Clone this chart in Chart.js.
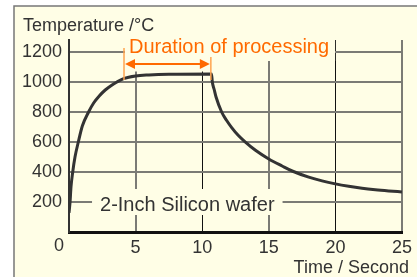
<!DOCTYPE html>
<html>
<head>
<meta charset="utf-8">
<script src="https://cdn.jsdelivr.net/npm/chart.js@4"></script>
<style>
  html, body { margin: 0; padding: 0; background: #fff; }
  #wrap { width: 417px; height: 277px; }
</style>
</head>
<body>
<div id="wrap"><canvas id="myChart"></canvas></div>
<script>
'use strict';

// time (s) and wafer temperature (deg C)
var timeSec = [0, 0.08, 0.15, 0.28, 0.45, 0.7, 1.0, 1.47, 1.85, 2.27, 2.7, 3.15, 3.6, 4.1, 5, 6, 7.5, 10.7,
               10.76, 10.9, 11.04, 11.46, 11.8, 12.2, 12.7, 13.2, 14, 15, 16, 16.8, 18, 19, 20, 21, 22, 23, 24, 25];
var tempC = [127, 200, 300, 400, 500, 600, 707, 800, 860, 907, 945, 975, 1000, 1022, 1040, 1047, 1052, 1054,
             1000, 950, 900, 800, 748, 698, 645, 603, 545, 487, 440, 405, 366, 341, 321, 305, 292, 282, 274, 267];
var xTicks = [0, 5, 10, 15, 20, 25];
var yTicks = [0, 200, 400, 600, 800, 1000, 1200];
var durationStart = 4.13;
var durationEnd = 10.65;

var FONT = '"Liberation Sans", Arial, sans-serif';
var INK = '#333';
var ORANGE = '#ff6a00';
var CREAM = '#fffee6';

var points = timeSec.map(function (t, i) { return { x: t, y: tempC[i] }; });

var decor = {
    id: 'decor',
    beforeDraw: function (chart) {
        var c = chart.ctx;
        c.save();
        c.fillStyle = '#fff';
        c.fillRect(0, 0, chart.width, chart.height);
        c.fillStyle = CREAM;
        c.fillRect(14, 6, chart.width - 14, chart.height - 6);
        c.strokeStyle = '#777';
        c.lineWidth = 1.5;
        c.beginPath();
        c.moveTo(14, chart.height);
        c.lineTo(14, 6);
        c.lineTo(chart.width, 6);
        c.stroke();
        c.restore();
    },
    beforeDatasetsDraw: function (chart) {
        // blank the grid behind the two labels
        var x = chart.scales.x, y = chart.scales.y, c = chart.ctx;
        var top = chart.chartArea.top;
        var xl = x.getPixelForValue(durationStart), xr = x.getPixelForValue(durationEnd);
        c.save();
        c.font = '20px ' + FONT;
        var w1 = c.measureText('Duration of processing').width;
        c.fillStyle = CREAM;
        c.fillRect(xl + 1, top - 2, w1 + 10, y.getPixelForValue(1140) - top + 2);
        c.fillRect(xl + 1, top - 2, xr - xl - 1, y.getPixelForValue(1070) - top + 2);
        var tx = x.getPixelForValue(2.33);
        var w2 = c.measureText('2-Inch Silicon wafer').width;
        var ty = y.getPixelForValue(200);
        c.fillRect(tx - 8, ty - 13, w2 + 16, 26);
        c.restore();
    },
    afterDatasetsDraw: function (chart) {
        var x = chart.scales.x, y = chart.scales.y, c = chart.ctx;
        var xl = x.getPixelForValue(durationStart), xr = x.getPixelForValue(durationEnd);
        c.save();
        // orange markers
        c.strokeStyle = '#ffa550';
        c.lineWidth = 1.5;
        c.beginPath();
        c.moveTo(xl, y.getPixelForValue(1227));
        c.lineTo(xl, y.getPixelForValue(1013));
        c.moveTo(xr, y.getPixelForValue(1167));
        c.lineTo(xr, y.getPixelForValue(1013));
        c.stroke();
        var ay = y.getPixelForValue(1120);
        c.strokeStyle = ORANGE;
        c.fillStyle = ORANGE;
        c.lineWidth = 2;
        c.beginPath();
        c.moveTo(xl + 6, ay);
        c.lineTo(xr - 6, ay);
        c.stroke();
        c.beginPath();
        c.moveTo(xl + 1, ay); c.lineTo(xl + 11, ay - 5); c.lineTo(xl + 11, ay + 5);
        c.closePath();
        c.moveTo(xr - 1, ay); c.lineTo(xr - 11, ay - 5); c.lineTo(xr - 11, ay + 5);
        c.closePath();
        c.fill();

        c.font = '20px ' + FONT;
        c.textBaseline = 'alphabetic';
        c.fillText('Duration of processing', xl + 5, y.getPixelForValue(1193));
        c.fillStyle = INK;
        c.fillText('2-Inch Silicon wafer', x.getPixelForValue(2.33), y.getPixelForValue(200) + 9);
        c.restore();
    },
    afterDraw: function (chart) {
        var x = chart.scales.x, c = chart.ctx;
        c.save();
        c.fillStyle = INK;
        c.font = '18px ' + FONT;
        c.textBaseline = 'alphabetic';
        c.textAlign = 'left';
        c.fillText('Temperature /°C', 23, 31);
        c.textAlign = 'right';
        c.fillText('Time / Second', 409, 273);
        // the "0" sits left of the axis
        c.textAlign = 'center';
        c.fillText(String(xTicks[0]), x.getPixelForValue(xTicks[0]) - 10, 251);
        c.restore();
    }
};

var ctx = document.getElementById('myChart').getContext('2d');
var chart = new Chart(ctx, {
    type: 'line',
    data: {
        datasets: [{
            data: points,
            borderColor: '#333',
            borderWidth: 3,
            pointRadius: 0,
            fill: false,
            cubicInterpolationMode: 'monotone'
        }]
    },
    options: {
        responsive: true,
        maintainAspectRatio: false,
        animation: false,
        layout: { padding: { top: 40, right: 15, left: 0, bottom: 0 } },
        plugins: { legend: { display: false }, tooltip: { enabled: false } },
        scales: {
            x: {
                type: 'linear',
                min: xTicks[0],
                max: xTicks[xTicks.length - 1],
                afterFit: function (s) { s.height = 45; },
                afterBuildTicks: function (s) {
                    s.ticks = xTicks.map(function (v) { return { value: v }; });
                },
                ticks: {
                    padding: 5,
                    color: INK,
                    font: { family: FONT, size: 18 },
                    maxRotation: 0,
                    callback: function (v) { return v === 0 ? '' : String(v); }
                },
                grid: {
                    drawTicks: false,
                    color: function (c) {
                        var v = c.tick ? c.tick.value : 0;
                        if (v === 0) return 'rgba(0,0,0,0)';
                        return (v === 10 || v === 20) ? '#111' : '#7b7b75';
                    },
                    lineWidth: function (c) {
                        var v = c.tick ? c.tick.value : 0;
                        return (v === 10 || v === 20) ? 1 : 2;
                    }
                },
                border: { color: '#111', width: 3 }
            },
            y: {
                min: 0,
                max: 1280,
                afterFit: function (s) { s.width = 69; },
                afterBuildTicks: function (s) {
                    s.ticks = yTicks.map(function (v) { return { value: v }; });
                },
                ticks: {
                    padding: 7,
                    color: INK,
                    font: { family: FONT, size: 18 },
                    callback: function (v) { return v === 0 ? '' : String(v); }
                },
                grid: {
                    drawTicks: false,
                    color: function (c) {
                        var v = c.tick ? c.tick.value : 0;
                        return v === 0 ? 'rgba(0,0,0,0)' : '#7b7b75';
                    },
                    lineWidth: 2
                },
                border: { color: '#333', width: 2 }
            }
        }
    },
    plugins: [decor]
});
</script>
</body>
</html>
